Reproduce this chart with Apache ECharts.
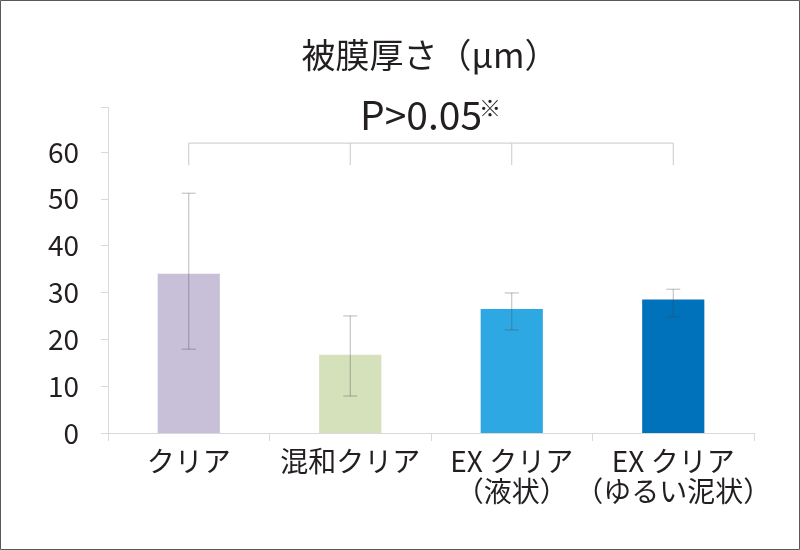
<!DOCTYPE html>
<html>
<head>
<meta charset="utf-8">
<script src="https://cdn.jsdelivr.net/npm/echarts@6/dist/echarts.min.js"></script>
<style>
html,body{margin:0;padding:0;background:#fff;}
#c{width:800px;height:550px;}
</style>
</head>
<body>
<div id="c"></div>
<script>
const categories = ['クリア', '混和クリア', 'EX クリア\n（液状）', 'EX クリア\n（ゆるい泥状）'];
const means = [34.0, 16.7, 26.5, 28.5];
const errLow = [17.9, 7.9, 22.0, 24.8];
const errHigh = [51.2, 25.0, 29.9, 30.7];
const barColors = ['#c8bfd8', '#d4e1bb', '#2ea8e2', '#0071bb'];
const yTicks = [0, 10, 20, 30, 40, 50, 60];
const bracketTop = 61.9;
const bracketBottom = 57.2;
const pText = 'P>0.05';
const pMark = '※';

const FONT = '"Noto Sans CJK JP", "Noto Sans", sans-serif';
const TXT = '#231f20';

const chart = echarts.init(document.getElementById('c'));
const option = {
  backgroundColor: '#fff',
  animation: false,
  title: {
    text: '被膜厚さ（µm）',
    left: 425, textAlign: 'center',
    top: 33,
    textStyle: { fontFamily: FONT, fontSize: 34, fontWeight: 'normal', color: TXT }
  },
  grid: { left: 108, right: 46, top: 107.5, bottom: 117 },
  xAxis: {
    type: 'category',
    data: categories,
    axisLine: { lineStyle: { color: '#d9d9d9', width: 1 } },
    axisTick: { show: true, alignWithLabel: false, length: 8, lineStyle: { color: '#d9d9d9' } },
    axisLabel: { fontFamily: FONT, fontSize: 28, color: TXT, margin: 13, lineHeight: 30, interval: 0 }
  },
  yAxis: {
    type: 'value',
    min: 0, max: 69.5, interval: 10,
    splitLine: { show: false },
    axisLine: { show: true, lineStyle: { color: '#d9d9d9', width: 1 } },
    axisTick: { show: true, length: 7, lineStyle: { color: '#d9d9d9' } },
    axisLabel: {
      fontFamily: FONT, fontSize: 28, color: TXT, margin: 29,
      formatter: v => (yTicks.indexOf(v) >= 0 ? String(v) : '')
    }
  },
  series: [
    {
      type: 'bar',
      barWidth: '38.5%',
      data: means.map((v, i) => ({ value: v, itemStyle: { color: barColors[i] } })),
      z: 2
    },
    {
      type: 'custom',
      z: 3,
      data: means.map((v, i) => [i, errLow[i], errHigh[i]]),
      renderItem: function (params, api) {
        const i = api.value(0);
        const lo = api.coord([i, api.value(1)]);
        const hi = api.coord([i, api.value(2)]);
        const cap = 7;
        const st = { stroke: 'rgba(70,70,70,0.38)', lineWidth: 1 };
        return {
          type: 'group',
          children: [
            { type: 'line', shape: { x1: lo[0], y1: lo[1], x2: hi[0], y2: hi[1] }, style: st },
            { type: 'line', shape: { x1: hi[0] - cap, y1: hi[1], x2: hi[0] + cap, y2: hi[1] }, style: st },
            { type: 'line', shape: { x1: lo[0] - cap, y1: lo[1], x2: lo[0] + cap, y2: lo[1] }, style: st }
          ]
        };
      }
    },
    {
      type: 'custom',
      z: 3,
      data: [[0]],
      renderItem: function (params, api) {
        const st = { stroke: '#c9c9c9', lineWidth: 1, fill: null };
        const children = [];
        const a = api.coord([0, bracketTop]);
        const b = api.coord([categories.length - 1, bracketTop]);
        children.push({ type: 'line', shape: { x1: a[0], y1: a[1], x2: b[0], y2: b[1] }, style: st });
        for (let k = 0; k < categories.length; k++) {
          const t = api.coord([k, bracketTop]);
          const d = api.coord([k, bracketBottom]);
          children.push({ type: 'line', shape: { x1: t[0], y1: t[1], x2: d[0], y2: d[1] }, style: st });
        }
        const m1 = api.coord([1, bracketTop]);
        const m2 = api.coord([2, bracketTop]);
        const cx = (m1[0] + m2[0]) / 2 - 10;
        const by = m1[1] - 8;
        children.push({
          type: 'text',
          style: { text: pText, x: cx, y: by, align: 'center', verticalAlign: 'bottom',
                   font: '39px ' + FONT, fill: TXT }
        });
        children.push({
          type: 'text',
          style: { text: pMark, x: cx + 58, y: by - 16, align: 'left', verticalAlign: 'bottom',
                   font: '22px ' + FONT, fill: TXT }
        });
        return { type: 'group', children: children };
      }
    }
  ],
  graphic: [
    { type: 'rect', shape: { x: 0.5, y: 0.5, width: 799, height: 549 },
      style: { fill: null, stroke: '#595959', lineWidth: 1 }, silent: true }
  ]
};
chart.setOption(option);
</script>
</body>
</html>
